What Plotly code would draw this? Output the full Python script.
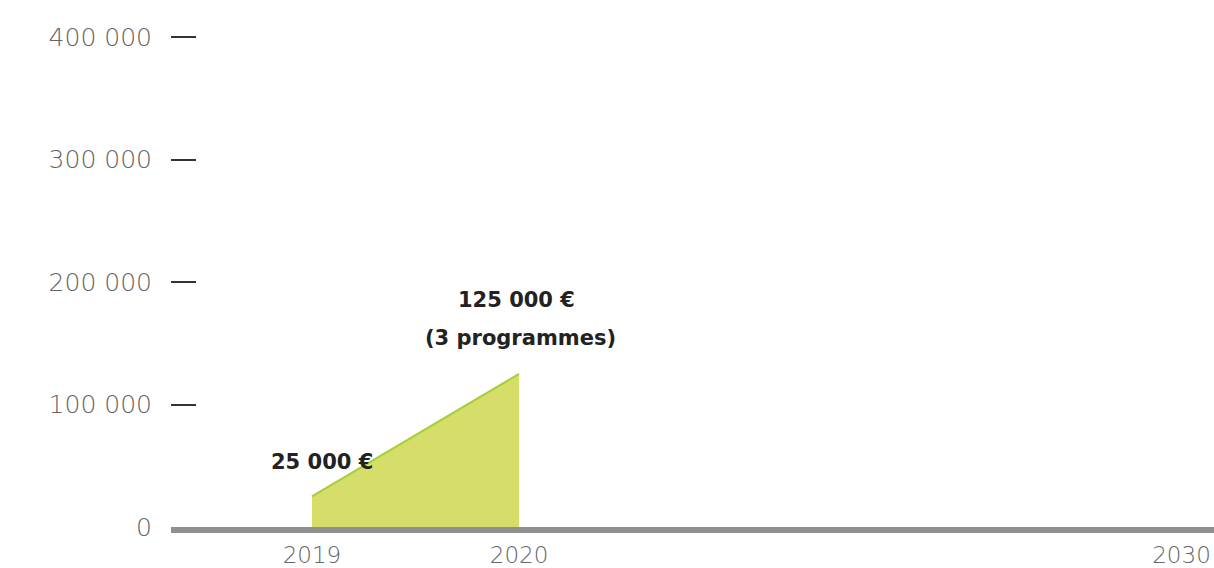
import plotly.graph_objects as go

# Data
years = [2019, 2020]
amounts = [25000, 125000]
labels_top = ["25 000 €", "125 000 €"]
note_2020 = "(3 programmes)"
x_tick_years = [2019, 2020, 2030]
y_ticks = [0, 100000, 200000, 300000, 400000]
y_tick_text = ["0", "100 000", "200 000", "300 000", "400 000"]

# broken (non-linear) time axis: slot position for each year
year_slot = {2019: 0.0, 2020: 1.0, 2030: 4.2}

xs = [year_slot[y] for y in years]

fig = go.Figure()
fig.add_trace(go.Scatter(
    x=xs, y=amounts, mode="lines", fill="tozeroy",
    fillcolor="#d5de69", line=dict(color="#a9cc3c", width=2),
    hoverinfo="skip", showlegend=False,
))

ann_font = dict(family="DejaVu Sans", size=21, color="#222222", weight="bold")
fig.add_annotation(x=xs[0], y=amounts[0], text=labels_top[0], showarrow=False,
                   xshift=10, yshift=34, font=ann_font)
fig.add_annotation(x=xs[1], y=amounts[1], text=labels_top[1], showarrow=False,
                   xshift=-3, yshift=74, font=ann_font)
fig.add_annotation(x=xs[1], y=amounts[1], text=note_2020, showarrow=False,
                   xshift=1, yshift=36, font=ann_font)

tick_font = dict(family="DejaVu Sans", size=25, color="#666666", weight=300)
xtick_font = dict(family="DejaVu Sans", size=23, color="#666666", weight=300)

fig.update_layout(
    width=1214, height=568,
    margin=dict(l=171, r=0, t=36, b=41),
    paper_bgcolor="white", plot_bgcolor="white",
    xaxis=dict(
        range=[-0.681, 4.357],
        tickvals=[year_slot[y] for y in x_tick_years],
        ticktext=[str(y) for y in x_tick_years],
        showgrid=False, zeroline=False,
        showline=True, linecolor="#8f8f8f", linewidth=6,
        ticks="", tickfont=xtick_font, ticklabelstandoff=2,
        automargin=False,
    ),
    yaxis=dict(
        range=[0, 401000],
        tickvals=y_ticks, ticktext=y_tick_text,
        showgrid=False, zeroline=False, showline=False,
        ticks="inside", ticklen=25, tickwidth=2, tickcolor="#333333",
        tickfont=tick_font, ticklabelstandoff=18,
        automargin=False,
    ),
)

fig.write_html("out.html", config={"displayModeBar": False},
               post_script="document.body.style.margin='0';")
